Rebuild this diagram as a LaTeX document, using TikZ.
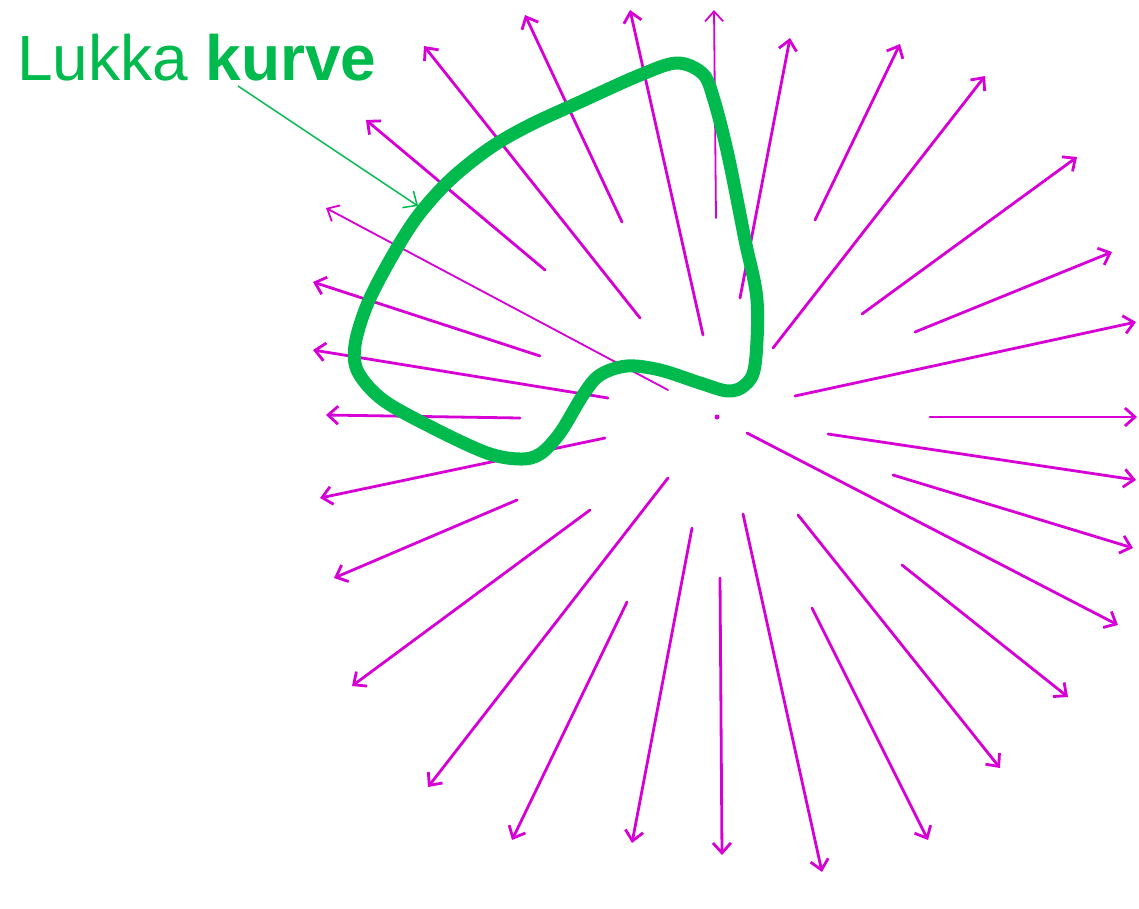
\documentclass[tikz,border=0pt]{standalone}
\usepackage{fontspec}
\setmainfont{Liberation Sans}
\usetikzlibrary{arrows.meta}
\definecolor{mag}{RGB}{214,0,214}
\definecolor{grn}{RGB}{0,186,78}
\tikzset{
  field/.style={draw=mag, line width=2.8pt, line cap=round, -{Straight Barb[length=10pt,width=18pt]}},
  thinfield/.style={field, line width=1.8pt},
  loop/.style={draw=grn, line width=13pt, line join=round},
  pointer/.style={draw=grn, line width=1.5pt, -{Straight Barb[length=11pt,width=20pt]}},
  label/.style={text=grn, font=\fontsize{64}{70}\selectfont, inner sep=0pt, anchor=base west}
}
\begin{document}
\begin{tikzpicture}[x=1pt,y=-1pt]
\useasboundingbox[fill=white] (0,0) rectangle (1139,908);
% radial field
\foreach \sx/\sy/\tx/\ty in {
 622/222/525/15, 703/335/630/10, 740/298/790/38, 815/220/900/44,
 773/348/985/76, 862/314/1077/157, 915/332/1112/252, 795/396/1136/322,
 930/417/1137/417, 828/434/1136/480, 893/475/1133/548, 747/433/1118/625,
 902/565/1068/697, 798/515/1000/768, 812/608/928/840, 743/514/822/872,
 720/578/722/855, 692/528/632/843, 627/602/512/840, 668/478/428/787,
 590/510/352/686, 517/500/334/578, 605/438/320/498, 520/418/326/415,
 608/398/313/350, 540/356/313/282, 545/270/366/120, 640/318/424/46}
 { \draw[field] (\sx,\sy) -- (\tx,\ty); }
\draw[thinfield] (716,218) -- (714,10);
\draw[thinfield] (668,390) -- (326,208);
\fill[mag] (717,417) circle (2.5pt);
% closed curve
\draw[loop] plot[smooth cycle, tension=0.55] coordinates {
 (677,63) (703,74) (714,100) (728,155) (745,240) (757,300) (755,365)
 (745,385) (728,391) (700,383) (660,370) (627,366) (600,375) (583,395)
 (560,433) (540,454) (520,459) (487,453) (433,428) (383,400) (358,372)
 (355,345) (367,305) (390,260) (417,217) (450,180) (490,148) (530,125)
 (580,102) (640,75)};
% label
\node[label] (lbl) at (17,80) {Lukka \textbf{kurve}};
\coordinate (ptr) at (418,206);
\draw[pointer] (238,86) -- (ptr);
\end{tikzpicture}
\end{document}
